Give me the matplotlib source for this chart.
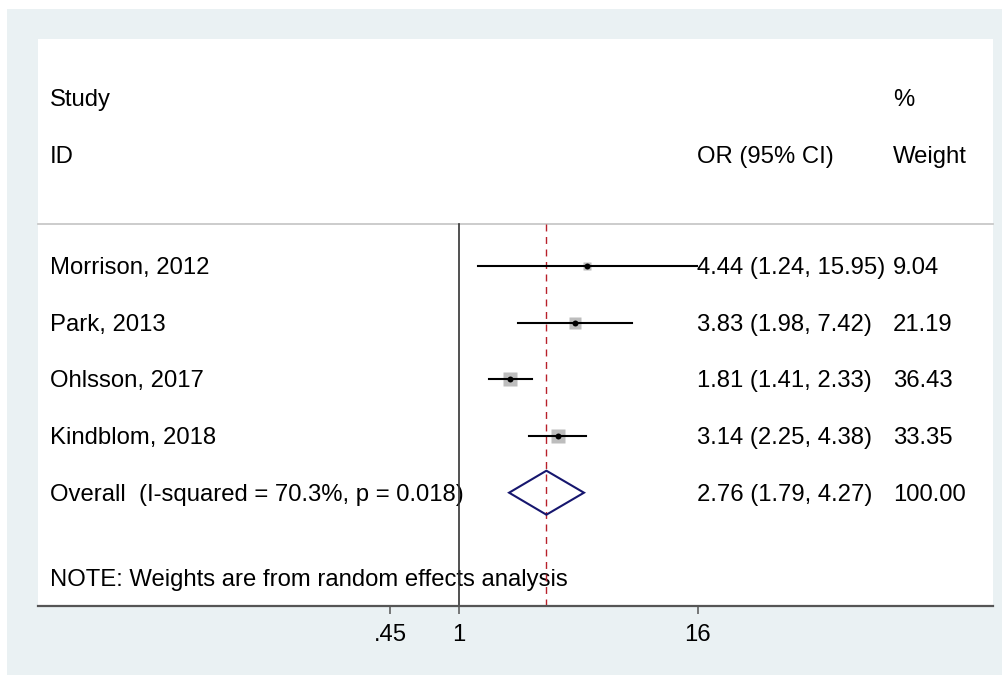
import matplotlib
matplotlib.use("Agg")
import matplotlib.pyplot as plt
import numpy as np
from matplotlib.patches import Rectangle, Polygon
from matplotlib.transforms import blended_transform_factory

plt.rcParams['font.family'] = ['Liberation Sans', 'DejaVu Sans']

# Study-level results
studies = ["Morrison, 2012", "Park, 2013", "Ohlsson, 2017", "Kindblom, 2018"]
or_est = [4.44, 3.83, 1.81, 3.14]
ci_lo = [1.24, 1.98, 1.41, 2.25]
ci_hi = [15.95, 7.42, 2.33, 4.38]
weights = [9.04, 21.19, 36.43, 33.35]

# Pooled (random effects) result
overall_est = 2.76
overall_lo = 1.79
overall_hi = 4.27
overall_weight = 100.00
i_squared = 70.3
p_het = 0.018

x_ticks = [0.45, 1, 16]
x_ticklabels = [".45", "1", "16"]

W, H = 1003, 675
fig = plt.figure(figsize=(W / 100, H / 100), dpi=100, facecolor="white")

# light outer background
bg = "#EAF1F3"
fig.patches.append(Rectangle((7 / W, 0), (W - 7) / W, (H - 9) / H,
                             transform=fig.transFigure, facecolor=bg,
                             edgecolor="none", zorder=-10))

# plot region (pixel layout)
left_px, right_px, top_px, bottom_px = 38, 993, 39, 606
ax = fig.add_axes([left_px / W, (H - bottom_px) / H,
                   (right_px - left_px) / W, (bottom_px - top_px) / H])
ax.set_zorder(1)
ax.set_facecolor("white")

# log scale: 1 sits at x=459 px, 86.09 px per natural-log unit
ax.set_xscale("log")
ppl = 86.09
x_one = 459
ax.set_xlim(np.exp((left_px - x_one) / ppl), np.exp((right_px - x_one) / ppl))
ax.set_ylim(bottom_px, top_px)

fs = 17.2

for s in ["top", "left", "right"]:
    ax.spines[s].set_visible(False)
ax.spines["bottom"].set_color("#555555")
ax.spines["bottom"].set_linewidth(1.6)
ax.set_yticks([])
ax.set_xticks(x_ticks)
ax.set_xticklabels(x_ticklabels)
ax.xaxis.set_minor_locator(matplotlib.ticker.NullLocator())
ax.tick_params(axis="x", direction="out", length=5.5, width=1.1,
               color="#555555", labelsize=fs, pad=7.5, labelcolor="black")

tx = blended_transform_factory(ax.transAxes, ax.transData)


def px(xp):
    return (xp - left_px) / (right_px - left_px)


def label(xp, y, s):
    # text rows sit slightly below the mark centre line
    ax.text(px(xp), y + 2, s, transform=tx, fontsize=fs, va="center",
            ha="left", zorder=1)


row_y = [266, 322.7, 379.3, 436]
overall_y = 492.7
sep_y = 224
col_study, col_or, col_wt = 50, 697, 893

# header
label(col_study, 98, "Study")
label(col_study, 155, "ID")
label(col_or, 155, "OR (95% CI)")
label(col_wt, 98, "%")
label(col_wt, 155, "Weight")

# separator under the header
ax.plot([0, 1], [sep_y, sep_y], transform=tx, color="#C8C8C8", lw=1.3,
        clip_on=False, zorder=1)

# null line and pooled estimate line
ax.plot([1, 1], [sep_y, bottom_px], color="#333333", lw=1.2, zorder=2,
        clip_on=False)
ax.plot([overall_est, overall_est], [sep_y, bottom_px], color="#B8202A",
        lw=1.0, ls=(0, (5, 4)), zorder=2, clip_on=False)

# study rows
for name, e, lo, hi, w, y in zip(studies, or_est, ci_lo, ci_hi, weights, row_y):
    ax.plot([e], [y], marker="s", ms=1.789 * np.sqrt(w), color="#BDBDBD",
            mec="none", zorder=3)
    ax.plot([lo, hi], [y, y], color="black", lw=1.5, zorder=4)
    ax.plot([e], [y], marker="o", ms=4.3, color="black", mec="none", zorder=5)
    label(col_study, y, name)
    label(col_or, y, f"{e:.2f} ({lo:.2f}, {hi:.2f})")
    label(col_wt, y, f"{w:.2f}")

# pooled diamond
half_h = 22
diamond = Polygon([(overall_lo, overall_y), (overall_est, overall_y - half_h),
                   (overall_hi, overall_y), (overall_est, overall_y + half_h)],
                  closed=True, facecolor="none", edgecolor="#16166E",
                  lw=1.5, zorder=4)
ax.add_patch(diamond)
label(col_study, overall_y,
      f"Overall  (I-squared = {i_squared:.1f}%, p = {p_het:.3f})")
label(col_or, overall_y,
      f"{overall_est:.2f} ({overall_lo:.2f}, {overall_hi:.2f})")
label(col_wt, overall_y, f"{overall_weight:.2f}")

label(col_study, 578, "NOTE: Weights are from random effects analysis")

fig.savefig("out.png", dpi=100, facecolor="white")
